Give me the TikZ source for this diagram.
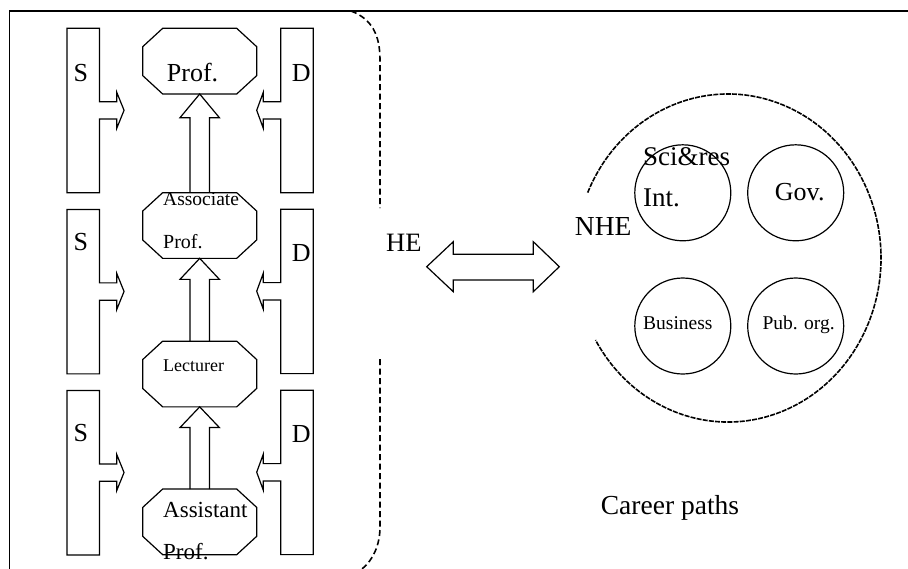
\documentclass[tikz,border=0pt]{standalone}
\usepackage{fontspec}
\setmainfont{Liberation Serif}
\usetikzlibrary{calc}
\newcommand\mysbox[1]{%
\draw[ln] (#1.north west) -- (#1.north east) -- ($(#1.north east)+(0,73.4)$) -- ($(#1.north east)+(17.2,73.4)$) -- ($(#1.north east)+(17.2,64)$) -- ($(#1.north east)+(24.5,82)$) -- ($(#1.north east)+(17.2,100)$) -- ($(#1.north east)+(17.2,90.7)$) -- ($(#1.north east)+(0,90.7)$) -- (#1.south east) -- (#1.south west) -- cycle;}
\newcommand\mydbox[1]{%
\draw[ln] (#1.north east) -- (#1.north west) -- ($(#1.north west)+(0,73.4)$) -- ($(#1.north west)+(-17.4,73.4)$) -- ($(#1.north west)+(-17.4,64)$) -- ($(#1.north west)+(-24,82)$) -- ($(#1.north west)+(-17.4,100)$) -- ($(#1.north west)+(-17.4,90.7)$) -- ($(#1.north west)+(0,90.7)$) -- (#1.south west) -- (#1.south east) -- cycle;}
\newcommand\myoct[1]{%
\draw[ln] ($(#1.north west)+(20,0)$) -- ($(#1.north east)+(-20,0)$) -- ($(#1.north east)+(0,18.4)$) -- ($(#1.south east)+(0,-18.4)$) -- ($(#1.south east)+(-20,0)$) -- ($(#1.south west)+(20,0)$) -- ($(#1.south west)+(0,-18.4)$) -- ($(#1.north west)+(0,18.4)$) -- cycle;}
\newcommand\myup[3]{%
\draw[ln] ($(#1.north)+(-9.7,0)$) -- ($(#2.south)+(-9.7,#3)$) -- ($(#2.south)+(-19.7,#3)$) -- (#2.south) -- ($(#2.south)+(19.7,#3)$) -- ($(#2.south)+(9.7,#3)$) -- ($(#1.north)+(9.7,0)$);}
\begin{document}
\begin{tikzpicture}[x=1pt,y=-1pt,
  ln/.style={line width=1.2pt, line join=miter},
  dsh/.style={line width=1.6pt, dash pattern=on 6pt off 3.5pt},
  dshb/.style={line width=1.6pt, dash pattern=on 5pt off 1.2pt},
  holder/.style={inner sep=0pt, outer sep=0pt, draw=none},
  octholder/.style={holder, minimum width=114pt, minimum height=65.7pt},
  sideholder/.style={holder, minimum width=32.6pt, minimum height=164.4pt},
  lbl/.style={inner sep=0pt, anchor=base west},
  orgcircle/.style={ln, circle, draw, minimum size=96pt, inner sep=0pt},
]
\useasboundingbox (0,0) rectangle (908,568);
\fill[white] (0,0) rectangle (908,568);
% frame
\draw[ln] (9.5,572) -- (9.5,11) -- (912,11);
% holders
\node[octholder] (prof)  at (199.7,61.15) {};
\node[octholder] (assoc) at (199.7,225.5) {};
\node[octholder] (lect)  at (199.7,374) {};
\node[octholder] (asst)  at (199.7,521.85) {};
\node[sideholder] (s1) at (83.25,110.5) {};
\node[sideholder] (s2) at (83.25,291.65) {};
\node[sideholder] (s3) at (83.25,472.7) {};
\node[sideholder] (d1) at (297,110.5) {};
\node[sideholder] (d2) at (297,291.4) {};
\node[sideholder] (d3) at (297,472.4) {};
\mysbox{s1}\mysbox{s2}\mysbox{s3}
\mydbox{d1}\mydbox{d2}\mydbox{d3}
\myoct{prof}\myoct{assoc}\myoct{lect}\myoct{asst}
\myup{assoc}{prof}{23.7}
\myup{lect}{assoc}{21}
\myup{asst}{lect}{20.7}
% labels left
\node[lbl, font=\fontsize{26}{30}\selectfont] (ts1) at (73.3,81) {S};
\node[lbl, font=\fontsize{26}{30}\selectfont] (ts2) at (73.3,250.7) {S};
\node[lbl, font=\fontsize{26}{30}\selectfont] (ts3) at (73.3,441.3) {S};
\node[lbl, font=\fontsize{26}{30}\selectfont] (td1) at (291.7,81) {D};
\node[lbl, font=\fontsize{26}{30}\selectfont] (td2) at (291.7,261.7) {D};
\node[lbl, font=\fontsize{26}{30}\selectfont] (td3) at (291.7,442) {D};
\node[lbl, font=\fontsize{26}{30}\selectfont] (tprof) at (166.7,81) {Prof.};
\node[lbl, font=\fontsize{19.5}{22}\selectfont] (tassoc) at (163,205) {Associate};
\node[lbl, font=\fontsize{20}{22}\selectfont] (tassoc2) at (163,248.3) {Prof.};
\node[lbl, font=\fontsize{18}{22}\selectfont] (tlect) at (163,371.3) {Lecturer};
\node[lbl, font=\fontsize{23}{26}\selectfont] (tasst) at (163,517.3) {Assistant};
\node[lbl, font=\fontsize{23}{26}\selectfont] (tasst2) at (163,559) {Prof.};
% HE boundary
\draw[dsh] (351,11) .. controls (372,19) and (380,35) .. (380,60) -- (380,208);
\draw[dsh] (380,359) -- (380,527) .. controls (380,545) and (373,560) .. (362,569);
\node[lbl, font=\fontsize{26.5}{30}\selectfont] (the) at (386,251.7) {HE};
% double arrow
\coordinate (dl) at (426.7,266.7);
\coordinate (dr) at (559.3,266.7);
\draw[ln] (dl) -- ($(dl)+(26.6,-25)$) -- ($(dl)+(26.6,-12.4)$) -- ($(dr)+(-26,-12.4)$) -- ($(dr)+(-26,-25)$) -- (dr) -- ($(dr)+(-26,25)$) -- ($(dr)+(-26,13.3)$) -- ($(dl)+(26.6,13.3)$) -- ($(dl)+(26.6,25)$) -- cycle;
% NHE
\coordinate (nc) at (728,258);
\draw[dshb] ($(nc)+(-156.5:153 and 164)$) arc[start angle=-156.5, end angle=150, x radius=153, y radius=164];
\node[orgcircle] (sci) at (682.8,192.8) {};
\node[orgcircle] (gov) at (795.7,192.8) {};
\node[orgcircle] (bus) at (682.8,326) {};
\node[orgcircle] (pub) at (795.7,326) {};
\node[lbl, font=\fontsize{27.5}{30}\selectfont] (tnhe) at (574.7,235) {NHE};
\node[lbl, font=\fontsize{27}{30}\selectfont] (tsci) at (643,165.7) {Sci\&res};
\node[lbl, font=\fontsize{27}{30}\selectfont] (tint) at (643,206.7) {Int.};
\node[lbl, font=\fontsize{26}{30}\selectfont] (tgov) at (774.7,200) {Gov.};
\node[lbl, font=\fontsize{19.5}{22}\selectfont] (tbus) at (643,329) {Business};
\node[lbl, font=\fontsize{19.5}{22}\selectfont] (tpub) at (762.3,329) {Pub. org.};
\node[lbl, font=\fontsize{27.5}{30}\selectfont] (tcar) at (600.7,514.7) {Career paths};
\end{tikzpicture}
\end{document}
